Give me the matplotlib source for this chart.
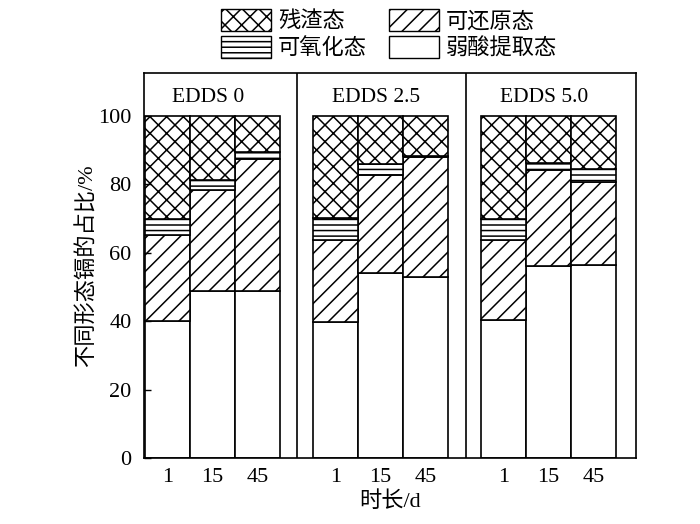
import numpy as np
import matplotlib.pyplot as plt
from matplotlib.patches import Patch

plt.rcParams['font.family'] = ['Liberation Serif', 'Noto Sans CJK SC']
plt.rcParams['hatch.linewidth'] = 1.1

# Data (percent of total Cd)
panels = ["EDDS 0", "EDDS 2.5", "EDDS 5.0"]
days = ["1", "15", "45"]
weak_acid = [[40.0, 48.7, 48.9], [39.9, 54.0, 52.9], [40.4, 56.1, 56.5]]
reducible = [[25.1, 29.6, 38.4], [23.7, 28.7, 35.0], [23.2, 28.1, 24.1]]
oxidizable = [[4.9, 2.9, 2.2], [6.7, 3.2, 0.4], [6.4, 2.1, 3.9]]
residual = [[30.0, 18.8, 10.5], [29.7, 14.1, 11.7], [30.0, 13.7, 15.5]]

labels = ["残渣态", "可还原态", "可氧化态", "弱酸提取态"]
hatches = {"weak": "", "red": "//", "oxi": "---", "res": "xx"}

fig = plt.figure(figsize=(7, 5.24), dpi=100)
ax = fig.add_axes([0.2057, 0.126, 0.703, 0.735])

offsets = [0, 3.73, 7.46]
ticks = []
ticklabels = []
for p, off in enumerate(offsets):
    x = np.arange(3) + off
    w = np.array(weak_acid[p])
    r = np.array(reducible[p])
    o = np.array(oxidizable[p])
    s = np.array(residual[p])
    kw = dict(width=1.0, color="white", edgecolor="black", linewidth=1.2)
    ax.bar(x, w, hatch=hatches["weak"], **kw)
    ax.bar(x, r, bottom=w, hatch=hatches["red"], **kw)
    ax.bar(x, o, bottom=w + r, hatch=hatches["oxi"], **kw)
    ax.bar(x, s, bottom=w + r + o, hatch=hatches["res"], **kw)
    ticks += list(x)
    ticklabels += days
    ax.text(off + 0.9, 105.3, panels[p], ha="center", va="center", fontsize=15.5)

# panel separators
for sep in [2.88, 6.63]:
    ax.axvline(sep, color="black", linewidth=1.2)

ax.set_xlim(-0.52, 10.41)
ax.set_ylim(0, 112.6)
ax.set_yticks([0, 20, 40, 60, 80, 100])
ax.set_xticks(ticks)
ax.set_xticklabels(ticklabels)
ax.tick_params(axis="y", direction="in", length=5, width=1.0, labelsize=16, pad=9)
ax.tick_params(axis="x", length=0, labelsize=16, pad=7)
for sp in ax.spines.values():
    sp.set_linewidth(1.2)

ax.set_ylabel("不同形态镉的占比/%", fontsize=16, labelpad=0)
ax.set_xlabel("时长/d", fontsize=16, labelpad=3)

handles = [
    Patch(facecolor="white", edgecolor="black", hatch=hatches["res"], label=labels[0]),
    Patch(facecolor="white", edgecolor="black", hatch=hatches["oxi"], label=labels[2]),
    Patch(facecolor="white", edgecolor="black", hatch=hatches["red"], label=labels[1]),
    Patch(facecolor="white", edgecolor="black", hatch=hatches["weak"], label=labels[3]),
]
fig.legend(handles=handles, ncol=2, loc="upper center", bbox_to_anchor=(0.556, 1.017),
           frameon=False, fontsize=16, handlelength=2.25, handleheight=1.15,
           columnspacing=1.0, labelspacing=0.15, handletextpad=0.3,
           borderpad=0.3)

fig.savefig("out.png", dpi=100)
